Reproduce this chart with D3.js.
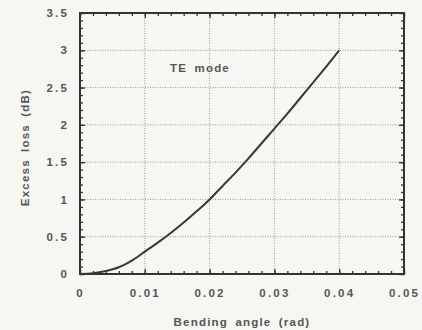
<!DOCTYPE html>
<html>
<head>
<meta charset="utf-8">
<script src="https://cdn.jsdelivr.net/npm/d3@7"></script>
<style>
  body { margin: 0; background: #f6f6f3; }
  svg { display: block; }
  .axis path { stroke: none; }
  .axis line { stroke: #333; stroke-width: 1.3px; }
  .axis text { font-family: Arial, "Liberation Sans", sans-serif; font-weight: bold; font-size: 11.5px; fill: #555; letter-spacing: 2.2px; }
  .grid line { stroke: #999; stroke-width: 1px; stroke-dasharray: 1,1.5; }
  .label { font-family: Arial, "Liberation Sans", sans-serif; font-weight: bold; font-size: 11.5px; fill: #555; letter-spacing: 1.2px; word-spacing: 3px; }
</style>
</head>
<body>
<svg id="chart"></svg>
<script>
var chartWidth = 422;
var chartHeight = 330;

/********
 * Data *
 ********/

var angle = [0, 0.002, 0.004, 0.006, 0.008, 0.010, 0.012, 0.014, 0.016, 0.018, 0.020,
             0.022, 0.024, 0.026, 0.028, 0.030, 0.032, 0.034, 0.036, 0.038, 0.040];
var loss = [0, 0.01, 0.04, 0.09, 0.18, 0.30, 0.42, 0.55, 0.69, 0.84, 1.0,
            1.18, 1.36, 1.55, 1.75, 1.95, 2.15, 2.36, 2.57, 2.78, 3.0];

var xTicks = [0, 0.01, 0.02, 0.03, 0.04, 0.05];
var yTicks = [0, 0.5, 1, 1.5, 2, 2.5, 3, 3.5];
var xTickLabels = ["0", "0.01", "0.02", "0.03", "0.04", "0.05"];
var yTickLabels = ["0", "0.5", "1", "1.5", "2", "2.5", "3", "3.5"];

var xTitle = "Bending angle (rad)";
var yTitle = "Excess loss (dB)";
var note = "TE mode";

/**********
 * Scales *
 **********/

var plotLeft = 80, plotRight = 404, plotTop = 13, plotBottom = 274;

var x = d3.scaleLinear().domain([0, 0.05]).range([plotLeft, plotRight]);
var y = d3.scaleLinear().domain([0, 3.5]).range([plotBottom, plotTop]);

var svg = d3.select("#chart")
    .attr("width", chartWidth)
    .attr("height", chartHeight);

// grid
svg.append("g")
    .attr("class", "grid")
    .selectAll("line")
    .data(xTicks.slice(1, -1))
    .enter().append("line")
    .attr("x1", function(d) { return x(d); })
    .attr("x2", function(d) { return x(d); })
    .attr("y1", plotTop)
    .attr("y2", plotBottom);

svg.append("g")
    .attr("class", "grid")
    .selectAll("line")
    .data(yTicks.slice(1, -1))
    .enter().append("line")
    .attr("x1", plotLeft)
    .attr("x2", plotRight)
    .attr("y1", function(d) { return y(d); })
    .attr("y2", function(d) { return y(d); });

/********
 * Axes *
 ********/

var xMinor = d3.range(0, 0.0501, 0.002);
var yMinor = d3.range(0, 3.501, 0.1);

// bottom
svg.append("g").attr("class", "axis")
    .attr("transform", "translate(0," + plotBottom + ")")
    .call(d3.axisBottom(x).tickValues(xMinor).tickSize(-3).tickFormat(""));
svg.append("g").attr("class", "axis")
    .attr("transform", "translate(0," + plotBottom + ")")
    .call(d3.axisBottom(x).tickValues(xTicks).tickSize(-5).tickPadding(15)
        .tickFormat(function(d, i) { return xTickLabels[i]; }));

// top
svg.append("g").attr("class", "axis")
    .attr("transform", "translate(0," + plotTop + ")")
    .call(d3.axisTop(x).tickValues(xMinor).tickSize(-3).tickFormat(""));
svg.append("g").attr("class", "axis")
    .attr("transform", "translate(0," + plotTop + ")")
    .call(d3.axisTop(x).tickValues(xTicks).tickSize(-5).tickFormat(""));

// left
svg.append("g").attr("class", "axis")
    .attr("transform", "translate(" + plotLeft + ",0)")
    .call(d3.axisLeft(y).tickValues(yMinor).tickSize(-3).tickFormat(""));
svg.append("g").attr("class", "axis")
    .attr("transform", "translate(" + plotLeft + ",0)")
    .call(d3.axisLeft(y).tickValues(yTicks).tickSize(-5).tickPadding(11)
        .tickFormat(function(d, i) { return yTickLabels[i]; }));

// right
svg.append("g").attr("class", "axis")
    .attr("transform", "translate(" + plotRight + ",0)")
    .call(d3.axisRight(y).tickValues(yMinor).tickSize(-3).tickFormat(""));
svg.append("g").attr("class", "axis")
    .attr("transform", "translate(" + plotRight + ",0)")
    .call(d3.axisRight(y).tickValues(yTicks).tickSize(-5).tickFormat(""));

// frame
svg.append("rect")
    .attr("x", plotLeft)
    .attr("y", plotTop)
    .attr("width", plotRight - plotLeft)
    .attr("height", plotBottom - plotTop)
    .attr("fill", "none")
    .attr("stroke", "#333")
    .attr("stroke-width", 2);

/*********
 * Curve *
 *********/

var line = d3.line()
    .x(function(d, i) { return x(angle[i]); })
    .y(function(d) { return y(d); })
    .curve(d3.curveMonotoneX);

svg.append("path")
    .datum(loss)
    .attr("d", line)
    .attr("fill", "none")
    .attr("stroke", "#383838")
    .attr("stroke-width", 2);

/**********
 * Labels *
 **********/

svg.append("text")
    .attr("class", "label")
    .attr("x", 170)
    .attr("y", 72)
    .text(note);

svg.append("text")
    .attr("class", "label")
    .attr("text-anchor", "middle")
    .attr("x", (plotLeft + plotRight) / 2)
    .attr("y", 326)
    .text(xTitle);

svg.append("text")
    .attr("class", "label")
    .attr("text-anchor", "middle")
    .attr("transform", "translate(29," + ((plotTop + plotBottom) / 2 + 4) + ") rotate(-90)")
    .text(yTitle);
</script>
</body>
</html>
